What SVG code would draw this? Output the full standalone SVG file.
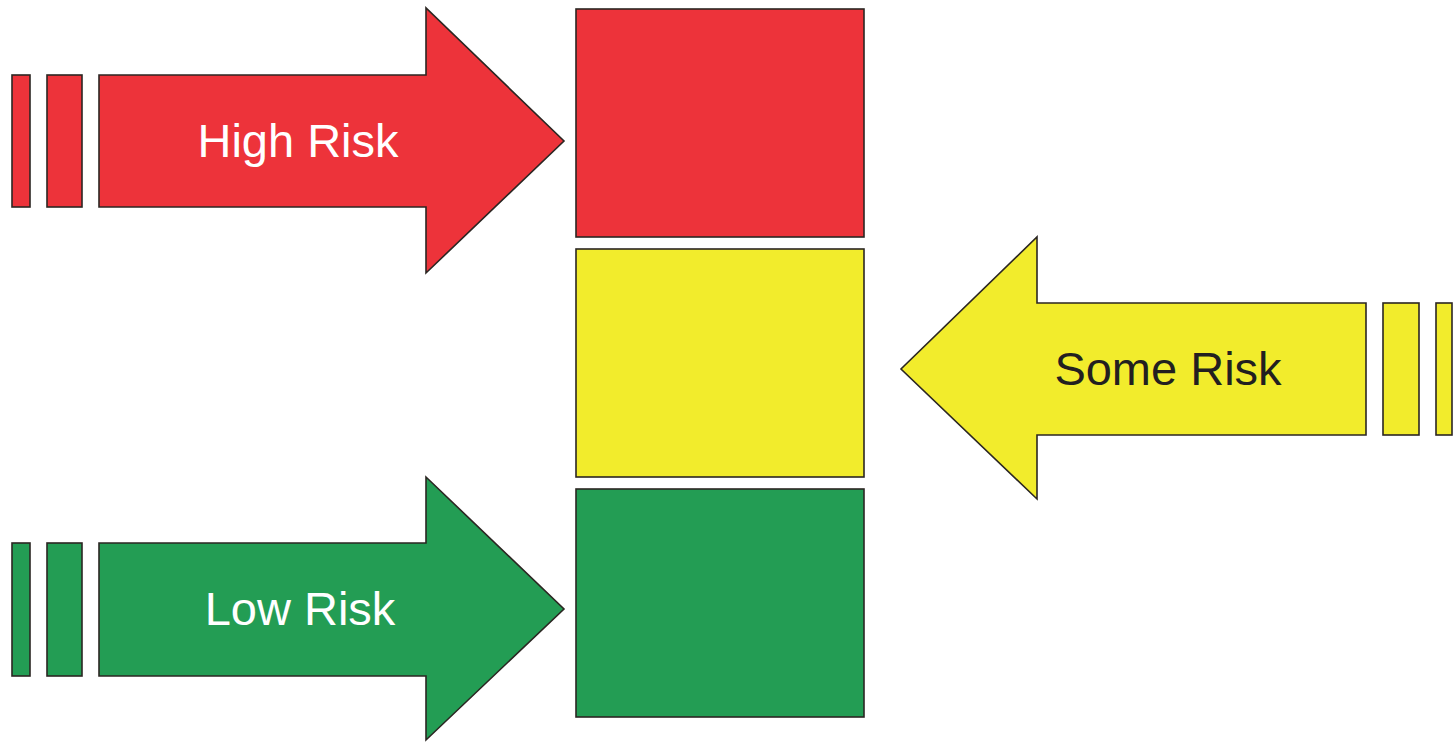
<svg xmlns="http://www.w3.org/2000/svg" width="1453" height="742" viewBox="0 0 1453 742">
<style>
.s{stroke:#2b2622;stroke-width:1.6;stroke-linejoin:miter}
.r{fill:#ED333A}
.y{fill:#F2EC2C}
.g{fill:#239D54}
.t{font-family:"Liberation Sans",Arial,sans-serif;font-size:47px;text-anchor:middle}
</style>
<rect width="1453" height="742" fill="#ffffff"/>
<g id="box-red"><rect class="s r" x="576" y="9" width="288" height="228"/></g>
<g id="box-yellow"><rect class="s y" x="576" y="249" width="288" height="228"/></g>
<g id="box-green"><rect class="s g" x="576" y="489" width="288" height="228"/></g>
<g id="arrow-high">
<rect class="s r" x="12" y="75" width="18" height="132"/>
<rect class="s r" x="47" y="75" width="35" height="132"/>
<polygon class="s r" points="99,75 426,75 426,8 564,141 426,273 426,207 99,207"/>
<text class="t" x="298" y="157" fill="#ffffff">High Risk</text>
</g>
<g id="arrow-some">
<polygon class="s y" points="1366,303 1037,303 1037,237 901,369 1037,499 1037,435 1366,435"/>
<rect class="s y" x="1383" y="303" width="36" height="132"/>
<rect class="s y" x="1436" y="303" width="16" height="132"/>
<text class="t" x="1168" y="385" fill="#231f20">Some Risk</text>
</g>
<g id="arrow-low">
<rect class="s g" x="12" y="543" width="18" height="133"/>
<rect class="s g" x="47" y="543" width="35" height="133"/>
<polygon class="s g" points="99,543 426,543 426,477 564,609 426,740 426,676 99,676"/>
<text class="t" x="300" y="625" fill="#ffffff">Low Risk</text>
</g>
<g id="connectors"></g>
</svg>
